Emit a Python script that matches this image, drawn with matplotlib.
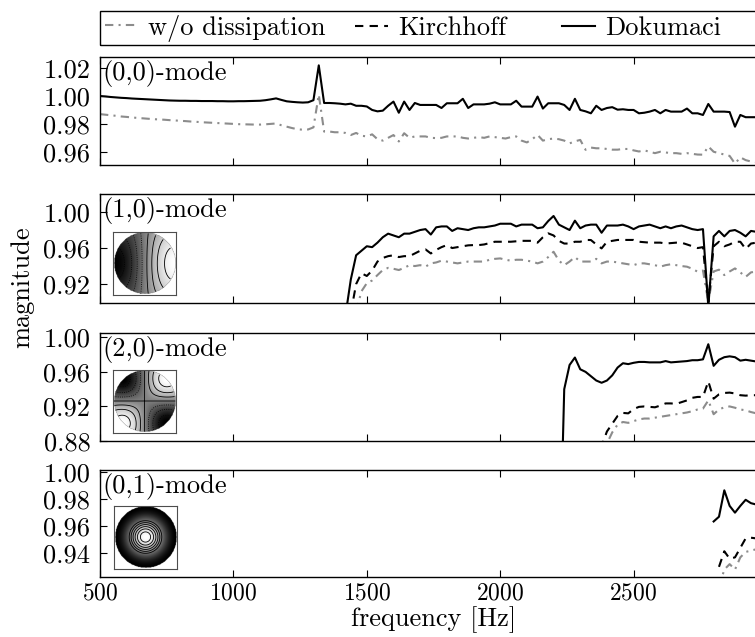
import numpy as np
import matplotlib
matplotlib.use("Agg")
import matplotlib.pyplot as plt
from matplotlib.patches import Rectangle
from matplotlib.ticker import FormatStrFormatter

plt.rcParams["font.family"] = "cmr10"
plt.rcParams["mathtext.fontset"] = "cm"
plt.rcParams["axes.formatter.use_mathtext"] = True
plt.rcParams["font.size"] = 19

STEP = 20  # frequency resolution [Hz]

# (0,0)-mode
p1_dok_start = 500
p1_dok = [
    1.000, 0.9997, 0.9993, 0.999, 0.9987, 0.9985, 0.9982, 0.998, 0.9978, 0.9976,
    0.9974, 0.9972, 0.9970, 0.9968, 0.9967, 0.9966, 0.9966, 0.9965, 0.9965, 0.9964,
    0.9964, 0.9964, 0.9963, 0.9963, 0.9962, 0.9962, 0.9963, 0.9963, 0.9964, 0.9965,
    0.9966, 0.9970, 0.9976, 0.9983, 0.9972, 0.9962, 0.9958, 0.9955, 0.9953, 0.9955,
    0.9970, 1.022,
    0.995, 0.995, 0.9948, 0.9945, 0.994, 0.9945, 0.993, 0.993, 0.9925, 0.990,
    0.989, 0.9895, 0.993, 0.996, 0.988, 0.996, 0.990, 0.995, 0.9936, 0.9936,
    0.9936, 0.9936, 0.9914, 0.9948, 0.9948, 0.9948, 0.998, 0.9914, 0.994, 0.994,
    0.994, 0.9945, 0.9955, 0.994, 0.994, 0.994, 0.9966, 0.9924, 0.9924, 0.9924,
    0.9996, 0.991, 0.9948, 0.9948, 0.9948, 0.9936, 0.990, 0.998, 0.990, 0.989,
    0.9876, 0.993, 0.990, 0.9914, 0.992, 0.9902, 0.9905, 0.990, 0.990, 0.9876,
    0.988, 0.9888, 0.990, 0.9876, 0.990, 0.9888, 0.9888, 0.9888, 0.991, 0.9876,
    0.9876, 0.9864, 0.9943, 0.9888, 0.9888, 0.9888, 0.9885, 0.978, 0.9864, 0.9848,
    0.9848, 0.9848,
]
p1_free_start = 500
p1_free = [
    0.987, 0.9866, 0.9862, 0.9858, 0.9853, 0.985, 0.9846, 0.9843, 0.984, 0.9837,
    0.9834, 0.9832, 0.983, 0.9827, 0.9825, 0.9822, 0.982, 0.9817, 0.9815, 0.9812,
    0.981, 0.9808, 0.9806, 0.9804, 0.9802, 0.98, 0.9798, 0.9797, 0.9796, 0.9795,
    0.9795, 0.9797, 0.98, 0.9803, 0.979, 0.978, 0.977, 0.9762, 0.9758, 0.976,
    0.9775, 1.001, 0.9745, 0.9745, 0.974, 0.974, 0.9735, 0.972, 0.9735, 0.9715,
    0.971, 0.9725, 0.969, 0.968, 0.970, 0.972, 0.9674, 0.9733, 0.970, 0.971,
    0.971, 0.971, 0.970, 0.9698, 0.970, 0.971, 0.971, 0.971, 0.970, 0.9695,
    0.970, 0.9705, 0.970, 0.971, 0.9705, 0.970, 0.9695, 0.9705, 0.971, 0.968,
    0.9667, 0.969, 0.9721, 0.968, 0.969, 0.9695, 0.969, 0.968, 0.966, 0.9675,
    0.9685, 0.9614, 0.963, 0.9625, 0.9625, 0.962, 0.9615, 0.9615, 0.962, 0.962,
    0.961, 0.9602, 0.961, 0.960, 0.959, 0.960, 0.9595, 0.959, 0.959, 0.9585,
    0.959, 0.9585, 0.958, 0.9579, 0.9638, 0.960, 0.959, 0.958, 0.957, 0.9515,
    0.956, 0.954, 0.953, 0.9525,
]

# (1,0)-mode
p2_dok_start = 1420
p2_dok = [
    0.885, 0.925, 0.952, 0.957, 0.962, 0.961, 0.966, 0.972, 0.976, 0.974,
    0.972, 0.976, 0.976, 0.978, 0.980, 0.981, 0.975, 0.983, 0.984, 0.984,
    0.979, 0.982, 0.981, 0.980, 0.982, 0.983, 0.983, 0.984, 0.985, 0.987,
    0.987, 0.987, 0.984, 0.986, 0.986, 0.986, 0.982, 0.983, 0.990, 0.9956,
    0.986, 0.983, 0.980, 0.9904, 0.982, 0.985, 0.986, 0.986, 0.977, 0.985,
    0.985, 0.985, 0.986, 0.984, 0.981, 0.984, 0.985, 0.986, 0.984, 0.982,
    0.984, 0.982, 0.984, 0.985, 0.983, 0.981, 0.980, 0.981, 0.895, 0.973,
    0.979, 0.973, 0.979, 0.980, 0.977, 0.973, 0.979, 0.978,
]
p2_kir_start = 1440
p2_kir = [
    0.888, 0.920, 0.932, 0.929, 0.935, 0.945, 0.949, 0.951, 0.952, 0.950,
    0.951, 0.951, 0.954, 0.957, 0.9585, 0.954, 0.958, 0.961, 0.9633, 0.960,
    0.961, 0.962, 0.963, 0.9633, 0.9633, 0.964, 0.9655, 0.967, 0.967, 0.967,
    0.967, 0.9675, 0.968, 0.968, 0.968, 0.966, 0.972, 0.9763, 0.974, 0.968,
    0.965, 0.965, 0.967, 0.967, 0.969, 0.9689, 0.964, 0.9596, 0.967, 0.968,
    0.969, 0.969, 0.969, 0.969, 0.967, 0.9665, 0.966, 0.966, 0.966, 0.965,
    0.9655, 0.966, 0.9659, 0.964, 0.962, 0.960, 0.961, 0.900, 0.962, 0.967,
    0.962, 0.964, 0.967, 0.967, 0.959, 0.965, 0.966,
]
p2_free_start = 1460
p2_free = [
    0.890, 0.912, 0.921, 0.924, 0.930, 0.9356, 0.938, 0.937, 0.9356, 0.938,
    0.941, 0.940, 0.941, 0.9393, 0.943, 0.944, 0.946, 0.945, 0.944, 0.943,
    0.944, 0.945, 0.945, 0.945, 0.945, 0.947, 0.948, 0.9485, 0.947, 0.946,
    0.947, 0.947, 0.946, 0.945, 0.943, 0.945, 0.950, 0.9559, 0.946, 0.941,
    0.945, 0.950, 0.945, 0.945, 0.945, 0.948, 0.943, 0.945, 0.945, 0.944,
    0.943, 0.942, 0.941, 0.943, 0.943, 0.942, 0.941, 0.9393, 0.941, 0.942,
    0.941, 0.940, 0.9393, 0.937, 0.9337, 0.935, 0.900, 0.934, 0.936, 0.930,
    0.934, 0.9374, 0.933, 0.928, 0.933, 0.934,
]

# (2,0)-mode
p3_dok_start = 2220
p3_dok = [
    0.70, 0.940, 0.968, 0.9766, 0.963, 0.960, 0.955, 0.950, 0.9474, 0.950,
    0.956, 0.965, 0.970, 0.969, 0.9705, 0.9715, 0.9715, 0.971, 0.971, 0.971,
    0.9725, 0.971, 0.9715, 0.972, 0.9725, 0.9735, 0.9735, 0.9745, 0.992, 0.967,
    0.974, 0.977, 0.978, 0.977, 0.973, 0.974, 0.973, 0.972,
]
p3_kir_start = 2360
p3_kir = [
    0.855, 0.874, 0.891, 0.900, 0.909, 0.9125, 0.912, 0.917, 0.9195, 0.920,
    0.9195, 0.919, 0.921, 0.9235, 0.9235, 0.923, 0.925, 0.927, 0.930, 0.931,
    0.931, 0.949, 0.929, 0.934, 0.9356, 0.936, 0.935, 0.933, 0.9325, 0.933,
    0.933,
]
p3_free_start = 2380
p3_free = [
    0.860, 0.877, 0.890, 0.899, 0.902, 0.901, 0.903, 0.905, 0.906, 0.906,
    0.907, 0.908, 0.909, 0.910, 0.911, 0.912, 0.913, 0.9145, 0.9165, 0.9175,
    0.927, 0.911, 0.9165, 0.919, 0.920, 0.9185, 0.9165, 0.9155, 0.9135, 0.912,
]

# (0,1)-mode
p4_dok_start = 2800
p4_dok = [0.9635, 0.967, 0.9865, 0.975, 0.970, 0.975, 0.9795, 0.977, 0.976]
p4_kir_start = 2820
p4_kir = [0.930, 0.9415, 0.936, 0.937, 0.944, 0.951, 0.9515, 0.951]
p4_free_start = 2820
p4_free = [0.915, 0.928, 0.932, 0.928, 0.937, 0.941, 0.942, 0.943]

mode_labels = ["(0,0)-mode", "(1,0)-mode", "(2,0)-mode", "(0,1)-mode"]
ylims = [(0.9505, 1.028), (0.899, 1.02), (0.88, 1.005), (0.9225, 1.0015)]
yticks = [[0.96, 0.98, 1.00, 1.02], [0.92, 0.96, 1.00],
          [0.88, 0.92, 0.96, 1.00], [0.94, 0.96, 0.98, 1.00]]
xticks = [500, 1000, 1500, 2000, 2500]

panels = [
    [(p1_free_start, p1_free), None, (p1_dok_start, p1_dok)],
    [(p2_free_start, p2_free), (p2_kir_start, p2_kir), (p2_dok_start, p2_dok)],
    [(p3_free_start, p3_free), (p3_kir_start, p3_kir), (p3_dok_start, p3_dok)],
    [(p4_free_start, p4_free), (p4_kir_start, p4_kir), (p4_dok_start, p4_dok)],
]

styles = [
    dict(color="0.55", lw=1.5, dashes=(4, 2.5, 1, 2.5), label="w/o dissipation"),
    dict(color="k", lw=1.5, dashes=(4, 3), label="Kirchhoff"),
    dict(color="k", lw=1.5, ls="-", label="Dokumaci"),
]

W, H = 755, 637
fig = plt.figure(figsize=(W / 100, H / 100), dpi=100)

# axes boxes in pixels: (top, bottom); the right edge runs past the figure
boxes = [(57, 165), (194, 303), (333, 441), (470, 577)]
left_px, right_px = 100, 767

axes = []
for i, (top, bot) in enumerate(boxes):
    ax = fig.add_axes([left_px / W, 1 - bot / H, (right_px - left_px) / W, (bot - top) / H])
    for style, series in zip(styles, panels[i]):
        if series is None:
            continue
        start, vals = series
        f = start + STEP * np.arange(len(vals))
        ax.plot(f, vals, **style)
    ax.set_xlim(500, 3000)
    ax.set_ylim(*ylims[i])
    ax.set_yticks(yticks[i])
    ax.yaxis.set_major_formatter(FormatStrFormatter("%.2f"))
    ax.set_xticks(xticks)
    ax.tick_params(direction="in", top=True, right=True, length=5, width=0.8)
    ax.tick_params(axis="y", pad=7)
    ax.tick_params(axis="x", pad=4, labelsize=17)
    if i < 3:
        ax.tick_params(labelbottom=False)
    for s in ax.spines.values():
        s.set_linewidth(1.0)
    ax.text(0.004, 0.975, mode_labels[i], transform=ax.transAxes, va="top", ha="left")
    axes.append(ax)

axes[-1].set_xlabel("frequency [Hz]", labelpad=1)
fig.text(22 / W, 1 - 287 / H, "magnitude", rotation=90, va="center", ha="center")

# legend: one frame spanning the top, entries placed along it
fig.add_artist(Rectangle((left_px / W, 1 - 45 / H), 680 / W, 34 / H,
                         transform=fig.transFigure, fill=False, lw=1.0,
                         edgecolor="k", clip_on=False))
for line, x in zip(axes[1].get_lines(), [105, 355, 562]):
    fig.legend(handles=[line], loc="center left",
               bbox_to_anchor=(x / W, 1 - 28 / H), frameon=False,
               borderpad=0, borderaxespad=0, handlelength=1.25, handletextpad=0.38)


# Bessel function of the first kind via its integral representation
def bessel_j(n, x):
    tau = np.linspace(0, np.pi, 200)
    return np.trapezoid(np.cos(n * tau - x[..., None] * np.sin(tau)), tau, axis=-1) / np.pi


g = np.linspace(-1, 1, 121)
X, Y = np.meshgrid(g, g)
R = np.hypot(X, Y)
T = np.arctan2(Y, X)
outside = R > 1

shapes = [
    (bessel_j(1, 1.8412 * R) * np.cos(T), np.linspace(-0.5, 0.5, 8)),
    (bessel_j(2, 3.0542 * R) * np.sin(2 * T), np.linspace(-0.42, 0.42, 7)),
    (bessel_j(0, 3.8317 * R), np.linspace(0.2, 0.9, 6)),
]
inset_px = [(113, 231, 176, 296), (113, 369, 176, 433), (114, 505, 177, 569)]

for (field, levels), (x0, y0, x1, y1) in zip(shapes, inset_px):
    iax = fig.add_axes([x0 / W, 1 - y1 / H, (x1 - x0) / W, (y1 - y0) / H])
    z = np.ma.masked_where(outside, field)
    iax.imshow(z, cmap="gray", origin="lower", extent=(-1, 1, -1, 1),
               vmin=field[~outside].min(), vmax=field[~outside].max())
    iax.contour(X, Y, z, levels=levels, colors="k", linewidths=0.6,
                negative_linestyles="dotted")
    iax.set_xlim(-1.03, 1.03)
    iax.set_ylim(-1.03, 1.03)
    iax.set_xticks([])
    iax.set_yticks([])
    for s in iax.spines.values():
        s.set_linewidth(0.8)
        s.set_color("0.3")

fig.savefig("out.png", dpi=100)
